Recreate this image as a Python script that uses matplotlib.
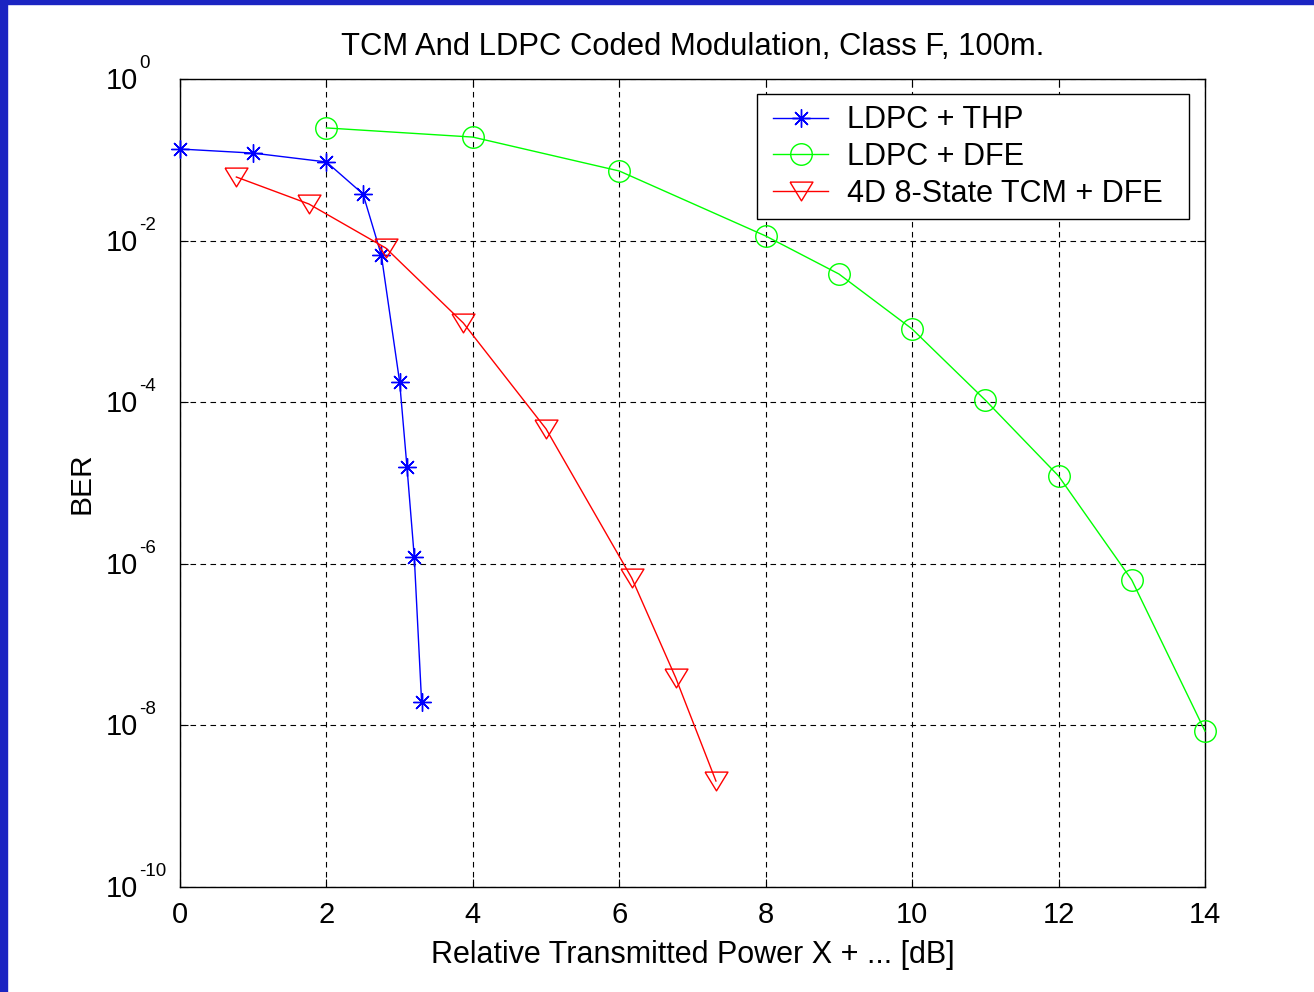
import matplotlib
matplotlib.use("Agg")
import matplotlib.pyplot as plt
from matplotlib.patches import Rectangle
from matplotlib.ticker import FixedLocator, NullFormatter

plt.rcParams['font.family'] = ['Liberation Sans', 'DejaVu Sans']

# Data
thp_x = [0, 1, 2, 2.5, 2.75, 3.0, 3.1, 3.2, 3.3]
thp_y = [0.136, 0.121, 0.094, 0.0377, 0.0066, 1.78e-4, 1.58e-5, 1.21e-6, 1.95e-8]

dfe_x = [2, 4, 6, 8, 9, 10, 11, 12, 13, 14]
dfe_y = [0.248, 0.191, 0.0727, 0.0114, 0.00386, 8.05e-4, 1.06e-4, 1.22e-5, 6.3e-7, 8.5e-9]

tcm_x = [0.77, 1.76, 2.81, 3.87, 5.0, 6.17, 6.77, 7.32]
tcm_y = [0.0612, 0.0284, 0.0081, 9.55e-4, 4.67e-5, 6.67e-7, 3.9e-8, 2.05e-9]

labels = ["LDPC + THP", "LDPC + DFE", "4D 8-State TCM + DFE"]
xticks = [0, 2, 4, 6, 8, 10, 12, 14]
yexps = [0, -2, -4, -6, -8, -10]

fig = plt.figure(figsize=(13.14, 9.92), dpi=100)
fig.patch.set_facecolor('white')
# slide border
fig.patches.append(Rectangle((0, 0), 7/1314, 1, transform=fig.transFigure, color='#1b24c2', zorder=0))
fig.patches.append(Rectangle((0, 1-4/992), 1, 4/992, transform=fig.transFigure, color='#1b24c2', zorder=0))

ax = fig.add_axes([180/1314, 1-887/992, (1205-180)/1314, (887-79)/992])

tri = [(-1, 0.82), (1, 0.82), (0, -0.82), (-1, 0.82)]
ax.plot(thp_x, thp_y, color='#0000ff', lw=1.0, marker=(8, 2, 0), ms=13, mew=1.0,
        label=labels[0], clip_on=False, zorder=3)
ax.plot(dfe_x, dfe_y, color='#00ff00', lw=1.0, marker='o', ms=15.5, mfc='none', mew=1.0,
        label=labels[1], clip_on=False, zorder=3)
ax.plot(tcm_x, tcm_y, color='#ff0000', lw=1.0, marker=tri, ms=16.5, mfc='none', mew=1.0,
        label=labels[2], clip_on=False, zorder=3)

ax.set_yscale('log')
ax.set_xlim(0, 14)
ax.set_ylim(1e-10, 1)
ax.xaxis.set_major_locator(FixedLocator(xticks))
ax.yaxis.set_major_locator(FixedLocator([10.0**e for e in yexps]))
ax.yaxis.set_minor_locator(FixedLocator([]))
ax.yaxis.set_major_formatter(NullFormatter())
ax.tick_params(axis='both', which='major', direction='in', length=6, width=0.8,
               top=True, right=True, labelsize=21, pad=10)
ax.grid(True, which='major', color='black', linestyle=(0, (5, 4)), lw=0.8)
for s in ax.spines.values():
    s.set_linewidth(1.0)

# MATLAB-style y tick labels: "10" with a raised exponent
ytrans = ax.get_yaxis_transform()
for e in yexps:
    ax.annotate("10", xy=(0, 10.0**e), xycoords=ytrans, xytext=(-42, -10),
                textcoords='offset pixels', ha='right', va='baseline', fontsize=21,
                annotation_clip=False)
    ax.annotate(str(e), xy=(0, 10.0**e), xycoords=ytrans, xytext=(-41, 11),
                textcoords='offset pixels', ha='left', va='baseline', fontsize=13.5,
                annotation_clip=False)

ax.set_title("TCM And LDPC Coded Modulation, Class F, 100m.", fontsize=22.3, pad=17)
ax.set_xlabel("Relative Transmitted Power X + ... [dB]", fontsize=22, labelpad=8)
ax.set_ylabel("BER", fontsize=21.5, labelpad=51)

# legend box (MATLAB style, wider right margin)
ax.add_patch(Rectangle((0.563, 0.8267), 0.9844 - 0.563, 0.9814 - 0.8267,
                       transform=ax.transAxes, facecolor='white', edgecolor='black',
                       lw=1.0, zorder=4.5, clip_on=False))
leg = ax.legend(loc='center', bbox_to_anchor=(0.7688, 0.9035),
                fontsize=22, frameon=False,
                handlelength=1.8, borderpad=0.0, labelspacing=0.215, handletextpad=0.62,
                borderaxespad=0)
leg.set_zorder(5)

fig.savefig("out.png", dpi=100)
